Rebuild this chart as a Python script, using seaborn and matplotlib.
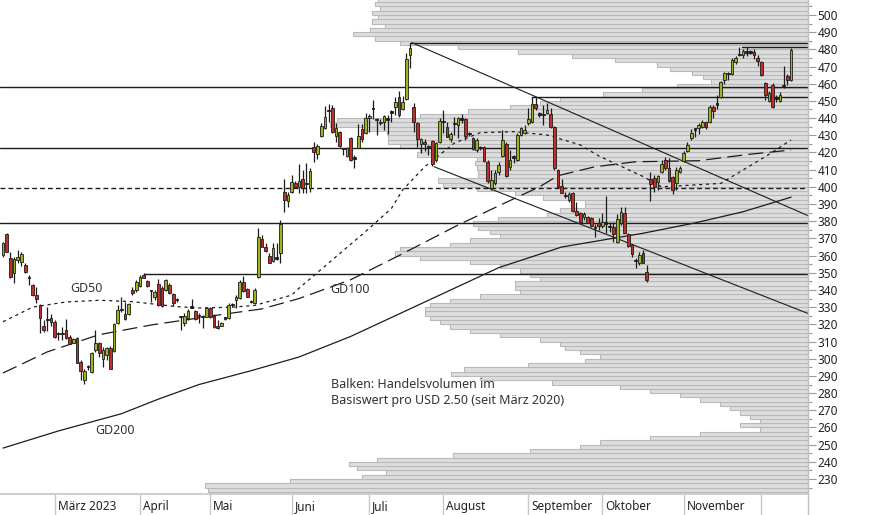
import numpy as np
import pandas as pd
import matplotlib
matplotlib.use("Agg")
import matplotlib.pyplot as plt
from matplotlib.lines import Line2D
import seaborn as sns

# NYSE trading days shown (Feb 8 - Dec 13 2023)
holidays = ["2023-02-20", "2023-04-07", "2023-05-29", "2023-06-19",
            "2023-07-04", "2023-09-04", "2023-11-23"]
dates = pd.bdate_range("2023-02-08", "2023-12-13", freq="C", holidays=holidays)

open_ = [360.3, 372.5, 358.4, 349.7, 357.4, 356.5, 354.5, 347.5, 342.9, 337.0,
         331.2, 319.0, 322.7, 323.7, 321.1, 314.9, 314.1, 316.7, 312.4, 309.3,
         311.8, 297.9, 287.6, 295.1, 292.4, 305.0, 309.3, 299.6, 302.1, 306.0,
         304.6, 320.6, 328.1, 325.8, 326.0, 340.0, 340.0, 342.3, 348.7, 345.2,
         339.6, 335.7, 343.5, 340.9, 340.0, 342.9, 337.6, 334.3, 324.6, 320.6,
         323.5, 329.7, 327.9, 324.6, 324.2, 324.4, 329.3, 325.0, 319.0, 319.0,
         323.3, 323.5, 331.0, 334.1, 335.1, 344.8, 340.5, 333.4, 332.2, 347.3,
         369.4, 365.2, 359.7, 357.0, 358.6, 361.3, 396.8, 391.9, 397.2, 402.0,
         400.1, 404.5, 401.5, 399.5, 423.4, 418.9, 429.8, 434.4, 443.9, 446.1,
         429.8, 431.7, 422.2, 418.1, 428.2, 416.8, 422.8, 433.6, 431.1, 439.9,
         445.1, 438.7, 437.9, 437.9, 439.1, 443.2, 446.6, 452.1, 445.3, 451.1,
         476.7, 446.6, 436.9, 424.9, 426.0, 423.6, 426.9, 415.6, 426.3, 437.7,
         434.6, 427.6, 436.4, 436.0, 439.1, 439.3, 431.0, 428.2, 421.4, 423.0,
         423.0, 414.6, 399.1, 402.0, 408.8, 418.0, 424.9, 411.7, 417.4, 415.6,
         430.2, 431.1, 437.0, 437.9, 448.2, 442.4, 442.0, 442.8, 442.4, 434.6,
         409.8, 400.5, 394.9, 392.3, 396.2, 386.1, 385.0, 382.3, 382.6, 381.7,
         376.6, 379.1, 377.2, 378.6, 377.0, 376.8, 368.1, 378.8, 385.0, 372.6,
         366.1, 357.2, 355.5, 361.3, 350.6, 404.4, 404.9, 403.0, 408.8, 415.6,
         410.8, 405.5, 402.4, 408.8, 415.2, 421.1, 428.2, 433.3, 434.4, 435.0,
         437.5, 437.5, 446.6, 447.8, 452.5, 462.2, 465.8, 465.5, 472.5, 476.5,
         476.7, 478.1, 478.1, 478.7, 475.2, 472.5, 460.2, 449.9, 459.3, 451.3,
         450.1, 458.7, 464.7, 462.2]
high = [368.1, 373.3, 361.9, 359.4, 363.2, 362.3, 355.9, 348.7, 343.5, 341.9,
        331.8, 322.5, 329.9, 326.0, 322.5, 315.7, 318.2, 323.1, 313.8, 311.8,
        312.4, 299.2, 293.8, 296.3, 304.1, 316.7, 309.9, 306.9, 306.9, 307.3,
        320.6, 331.2, 336.1, 333.1, 332.6, 341.9, 345.8, 348.7, 349.7, 345.8,
        340.0, 340.0, 346.2, 342.3, 346.6, 343.9, 338.0, 335.1, 324.8, 326.4,
        328.7, 334.5, 328.3, 326.4, 325.4, 329.9, 329.9, 326.0, 322.5, 321.5,
        324.1, 332.2, 332.2, 337.0, 345.8, 348.1, 340.9, 334.1, 340.9, 375.9,
        372.0, 367.1, 361.3, 367.1, 367.1, 380.7, 404.5, 397.2, 406.9, 403.4,
        413.1, 409.8, 413.9, 411.0, 425.9, 424.7, 437.0, 447.2, 448.0, 447.6,
        437.0, 432.5, 422.8, 423.4, 429.2, 418.5, 436.4, 436.4, 442.8, 442.2,
        450.5, 439.9, 439.5, 441.8, 441.8, 444.7, 452.5, 455.8, 453.0, 477.7,
        483.5, 448.6, 437.5, 428.2, 428.0, 424.4, 427.2, 426.3, 439.9, 444.7,
        437.9, 432.1, 440.8, 440.8, 442.4, 439.9, 432.1, 429.2, 428.2, 423.8,
        423.8, 415.6, 409.8, 409.8, 414.6, 433.1, 426.3, 421.4, 418.5, 431.1,
        435.0, 436.0, 445.7, 452.5, 452.5, 443.8, 447.6, 448.6, 445.7, 435.4,
        410.2, 404.4, 397.0, 397.2, 397.2, 391.4, 385.6, 385.6, 383.0, 382.6,
        378.4, 381.7, 384.6, 394.7, 379.7, 379.7, 384.2, 388.5, 388.1, 372.9,
        366.7, 358.4, 362.3, 363.2, 354.5, 408.8, 406.9, 406.9, 415.6, 417.5,
        416.6, 406.3, 411.4, 412.1, 421.1, 426.3, 433.5, 434.0, 437.0, 438.9,
        438.3, 447.6, 447.6, 453.4, 461.6, 467.0, 467.0, 474.8, 476.3, 481.6,
        480.2, 481.6, 479.6, 480.2, 476.7, 473.2, 460.8, 455.8, 460.2, 453.4,
        455.0, 470.5, 465.5, 480.6]
low = [359.0, 361.9, 346.7, 344.2, 355.9, 353.9, 349.7, 342.9, 336.5, 332.6,
       314.7, 315.7, 316.3, 319.0, 312.2, 310.9, 310.9, 311.4, 308.5, 308.9,
       297.3, 287.6, 285.3, 293.4, 291.8, 304.1, 301.2, 295.3, 299.2, 293.8,
       304.1, 320.2, 327.4, 322.5, 325.4, 337.0, 339.0, 341.9, 346.7, 341.9,
       333.2, 334.1, 330.6, 330.2, 339.4, 337.6, 330.6, 333.2, 316.7, 319.0,
       322.5, 329.3, 322.5, 320.6, 317.6, 324.1, 323.5, 317.6, 317.2, 319.0,
       322.5, 322.9, 329.9, 329.3, 334.5, 339.0, 335.7, 332.2, 331.8, 346.7,
       364.8, 362.3, 355.5, 356.5, 357.4, 355.9, 385.5, 388.4, 396.2, 399.1,
       396.2, 396.2, 396.6, 397.0, 414.6, 416.2, 429.2, 433.7, 437.9, 431.1,
       426.3, 423.4, 418.5, 417.5, 415.0, 411.1, 422.4, 426.3, 430.5, 432.1,
       439.5, 430.2, 436.0, 433.1, 430.5, 437.5, 441.8, 440.8, 444.7, 450.5,
       469.3, 432.1, 423.4, 419.5, 421.0, 418.5, 412.1, 414.6, 425.3, 431.1,
       428.8, 426.3, 430.2, 428.2, 437.0, 427.2, 429.6, 421.4, 420.5, 421.4,
       414.6, 402.4, 398.2, 401.1, 406.9, 417.6, 405.9, 409.8, 413.7, 415.0,
       429.6, 430.6, 436.0, 437.3, 444.7, 440.8, 436.0, 442.4, 434.0, 409.8,
       399.1, 396.2, 393.3, 391.4, 385.5, 383.0, 379.1, 380.7, 378.8, 376.8,
       371.0, 374.9, 375.9, 372.9, 373.9, 368.1, 367.5, 377.8, 372.9, 365.2,
       359.4, 352.6, 354.5, 355.5, 344.8, 391.9, 397.2, 398.2, 407.9, 409.8,
       403.0, 395.8, 398.2, 408.2, 414.6, 420.5, 427.2, 429.2, 430.8, 434.0,
       433.7, 437.0, 439.9, 445.3, 451.5, 459.6, 462.2, 465.1, 471.3, 476.3,
       475.2, 476.3, 477.1, 474.4, 470.5, 464.7, 450.5, 449.6, 445.7, 449.6,
       449.6, 457.3, 459.3, 461.6]
close = [367.1, 362.3, 347.3, 358.0, 359.4, 360.9, 350.2, 347.1, 337.0, 334.7,
         323.9, 316.7, 323.1, 321.5, 312.8, 314.5, 314.5, 311.8, 308.5, 311.2,
         297.7, 293.0, 293.0, 295.5, 303.5, 309.3, 303.5, 305.0, 306.0, 293.8,
         320.0, 328.3, 328.5, 323.1, 331.8, 338.4, 344.8, 347.7, 347.1, 342.5,
         339.2, 339.0, 331.2, 330.6, 345.8, 338.4, 332.6, 333.9, 324.2, 324.8,
         327.9, 330.1, 322.9, 325.0, 324.6, 329.3, 324.1, 318.2, 317.6, 320.6,
         323.7, 331.2, 331.4, 335.7, 344.8, 339.6, 336.1, 333.0, 340.0, 371.0,
         365.2, 362.9, 355.9, 364.2, 358.2, 378.4, 392.3, 395.2, 402.6, 400.1,
         403.4, 399.1, 402.0, 409.2, 420.1, 423.8, 435.6, 440.8, 444.3, 431.7,
         434.0, 424.0, 421.8, 422.8, 415.6, 416.4, 429.8, 427.8, 439.9, 441.4,
         445.5, 439.1, 436.9, 441.2, 439.5, 443.6, 449.2, 441.8, 449.6, 474.4,
         481.0, 437.5, 427.8, 427.6, 425.0, 423.2, 413.3, 425.3, 438.5, 438.1,
         429.2, 430.8, 436.8, 439.9, 439.5, 429.6, 430.6, 421.8, 427.3, 422.6,
         415.2, 403.6, 404.0, 407.9, 412.7, 427.3, 406.3, 415.6, 417.0, 430.2,
         434.0, 433.1, 439.3, 448.2, 445.7, 442.0, 441.6, 444.7, 434.6, 410.8,
         400.1, 396.6, 394.5, 395.8, 386.1, 383.6, 379.7, 384.2, 379.1, 377.2,
         376.2, 377.2, 379.7, 379.0, 376.6, 372.6, 381.1, 385.6, 373.3, 365.6,
         360.9, 356.8, 360.3, 355.9, 345.8, 401.7, 400.1, 406.3, 413.3, 410.8,
         403.6, 398.2, 409.8, 410.8, 419.9, 424.4, 431.5, 433.7, 436.0, 437.5,
         435.0, 446.6, 444.1, 448.2, 461.2, 466.0, 466.2, 473.8, 474.8, 476.9,
         479.0, 478.5, 478.5, 476.7, 473.2, 465.1, 453.4, 454.4, 446.6, 451.7,
         453.4, 459.1, 462.2, 479.6]

# moving averages (trading-day index, value)
gd50_day = [0, 8, 17, 26, 35, 47, 53, 62, 68, 78, 80, 98, 105, 108, 114, 122,
            129, 138, 147, 156, 161, 173, 178, 186, 194, 200, 206, 213]
gd50_val = [321.5, 330.0, 333.0, 334.0, 333.2, 330.3, 329.5, 330.0, 331.0, 337.0,
            341.0, 374.0, 387.5, 398.2, 411.7, 425.5, 431.5, 432.1, 430.2, 424.4,
            418.0, 406.0, 400.0, 401.0, 402.0, 409.8, 417.5, 427.3]
gd100_day = [0, 12, 26, 40, 60, 70, 80, 94, 107, 123, 138, 145, 150, 160, 171,
             188, 196, 202, 213]
gd100_val = [291.7, 304.0, 314.0, 319.6, 326.0, 329.0, 335.0, 346.0, 360.0, 377.8,
             393.0, 400.0, 406.5, 411.7, 414.6, 415.2, 417.4, 419.0, 421.4]
gd200_day = [0, 15, 32, 42, 53, 67, 80, 94, 107, 121, 134, 151, 173, 187, 200, 213]
gd200_val = [248.0, 258.0, 268.0, 276.5, 285.0, 293.0, 301.0, 313.0, 326.0, 340.0,
             353.0, 365.0, 373.0, 379.0, 385.5, 394.0]

# horizontal levels (value, first day)
levels = [378.9, 422.4, 457.9]
level_400 = 399.2
partial_levels = [(349.3, 38), (452.5, 143), (483.9, 110), (481.6, 199.7)]
# trend lines (day, value) pairs
trend_upper = [(110.5, 483.9), (217.6, 383.2)]
trend_lower = [(116.5, 411.7), (217.6, 326.3)]

# volume profile per USD 2.50 bin (relative volume), from 222.5 upwards
vol_bins = np.arange(222.5, 507.6, 2.5)
volume = [600, 603, 518, 446, 422, 451, 459, 431, 355, 278,
          228, 208, 158, 108, 48, 68, 48, 58, 68, 78,
          88, 108, 128, 158, 188, 256, 328, 357, 344, 280,
          223, 208, 228, 243, 248, 268, 308, 338, 358, 368,
          378, 383, 383, 378, 358, 328, 288, 293, 293, 268,
          278, 288, 308, 338, 388, 413, 408, 358, 338, 308,
          318, 330, 335, 310, 261, 248, 223, 223, 265, 293,
          331, 365, 370, 330, 330, 331, 333, 331, 391, 388,
          408, 420, 420, 421, 441, 478, 471, 388, 340, 298,
          268, 248, 205, 166, 131, 97, 105, 116, 138, 151,
          193, 236, 290, 350, 408, 433, 455, 438, 423, 436,
          430, 436, 428, 433, 430]

months = {3: "März 2023", 4: "April", 5: "Mai", 6: "Juni", 7: "Juli",
          8: "August", 9: "September", 10: "Oktober", 11: "November", 12: ""}

sns.set_theme(style="white")
plt.rcParams["font.family"] = ["Noto Sans", "DejaVu Sans"]

W, H = 874, 515
fig = plt.figure(figsize=(W / 100, H / 100), dpi=100)
ax = fig.add_axes([0, 21 / H, 808 / W, 494 / H])
x0, x1 = -0.81, 217.57
ax.set_xlim(x0, x1)
ax.set_ylim(221.3, 508.7)

ink = "#1c1c1c"

# volume profile from the right edge
vol = np.array(volume, dtype=float)
length = vol / vol.max() * 0.746 * (x1 - x0)
ax.barh(vol_bins + 1.25, length, left=x1 - length, height=2.5,
        color="#dddddd", edgecolor="#b9b9b9", linewidth=0.8, zorder=1)

# levels and trend lines
for lv in levels:
    ax.axhline(lv, color=ink, lw=1.0, zorder=2)
ax.axhline(level_400, color=ink, lw=1.0, ls=(0, (3.5, 2.2)), zorder=2)
for lv, d in partial_levels:
    ax.plot([d, x1], [lv, lv], color=ink, lw=1.0, zorder=2)
for tl in (trend_upper, trend_lower):
    ax.plot([p[0] for p in tl], [p[1] for p in tl], color=ink, lw=0.8, zorder=2)

# moving averages
sns.lineplot(x=gd50_day, y=gd50_val, ax=ax, color=ink, lw=0.9,
             linestyle=(0, (2.5, 3)), zorder=3)
sns.lineplot(x=gd100_day, y=gd100_val, ax=ax, color=ink, lw=0.9,
             linestyle=(0, (12, 5)), zorder=3)
sns.lineplot(x=gd200_day, y=gd200_val, ax=ax, color=ink, lw=0.9, zorder=3)

# candles
o, h, l, c = (np.array(a) for a in (open_, high, low, close))
idx = np.arange(len(dates))
ax.vlines(idx, l, h, color=ink, lw=0.9, zorder=4)
body = np.abs(c - o)
doji = body < 0.8
colors = np.where(c >= o, "#9db41f", "#c0302a")
colors = np.where(doji, ink, colors)
ax.bar(idx, np.maximum(body, 0.7), bottom=np.minimum(o, c), width=0.75,
       color=colors, edgecolor=ink, linewidth=0.6, zorder=5)

# annotations
txt = "#333333"
ax.text(18.1, 341.1, "GD50", fontsize=9, color=txt, va="center")
ax.text(88.4, 340.0, "GD100", fontsize=9, color=txt, va="center")
ax.text(24.9, 258.5, "GD200", fontsize=9, color=txt, va="center")
ax.text(88.6, 289.0, "Balken: Handelsvolumen im\nBasiswert pro USD 2.50 (seit März 2020)",
        fontsize=9, color=txt, va="top", linespacing=1.35)

# axes styling
for s in ("top", "left"):
    ax.spines[s].set_visible(False)
ax.spines["bottom"].set_color("#c8c8c8")
ax.spines["right"].set_visible(False)
fig.add_artist(Line2D([808 / W, 808 / W], [0, 1], color="#c0c0c0", lw=1.0))

ax.yaxis.tick_right()
ax.set_yticks(np.arange(230, 501, 10))
ax.set_yticks(np.arange(225, 506, 10), minor=True)
ax.tick_params(axis="y", which="major", length=5.5, width=0.8, color="#9a9a9a",
               pad=1.5, labelsize=8.5, labelcolor="#222222", right=True)
ax.tick_params(axis="y", which="minor", length=3, width=0.8, color="#9a9a9a", right=True)
ax.set_xticks([])

# month separators and labels under the axis
month_no = dates.month.values
starts = [i for i in range(1, len(dates)) if month_no[i] != month_no[i - 1]]
xt = ax.get_xaxis_transform()
for i in starts:
    ax.plot([i, i], [0, -0.05], transform=xt, clip_on=False, color="#c8c8c8", lw=1.0)
    ax.text(i + 0.8, -0.026, months[month_no[i]], transform=xt, fontsize=8.5,
            color="#222222", va="center", ha="left")

fig.savefig("out.png", dpi=100)
